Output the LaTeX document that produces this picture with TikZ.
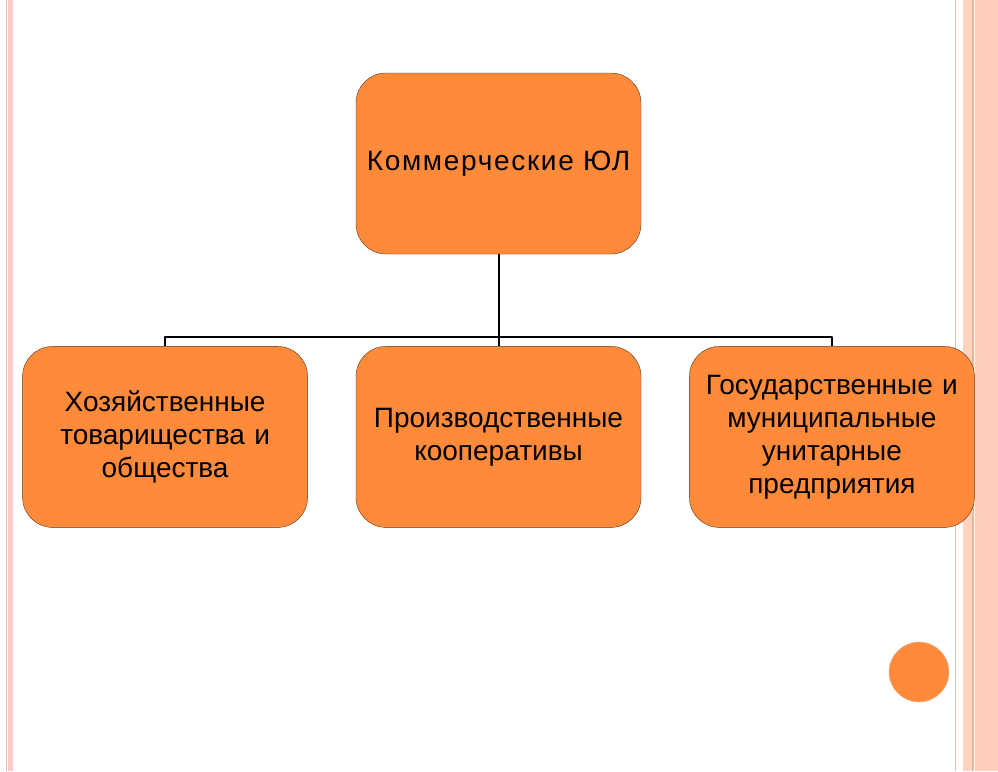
\documentclass[tikz,border=0pt]{standalone}
\usepackage{fontspec}
\setmainfont{Liberation Sans}
\usetikzlibrary{positioning,calc}
\definecolor{boxfill}{HTML}{FF8A3A}
\definecolor{boxline}{HTML}{5A3418}
\definecolor{stripetan}{HTML}{D9C2AE}
\definecolor{stripepink}{HTML}{FFC9C6}
\definecolor{stripepeach}{HTML}{FFD3BE}
\definecolor{stripedark}{HTML}{EDB497}
\definecolor{stripesalmon}{HTML}{FFCDBE}

\begin{document}
\begin{tikzpicture}[x=1pt,y=-1pt,line join=round,
	orgbox/.style={draw=boxline,fill=boxfill,rectangle,rounded corners=30pt,minimum width=285pt,minimum height=181pt,text width=275pt,align=center,font=\fontsize{28}{33}\selectfont,inner sep=0pt},
	branch/.style={draw=black,line width=2pt}]
	\useasboundingbox (0,0) rectangle (998,771);
	% page frame
	\fill[stripetan]		(5.5,0) rectangle (7,771);
	\fill[stripepink]		(8,0) rectangle (12.5,771);
	\fill[stripetan]		(954.5,0) rectangle (956,771);
	\fill[stripepeach]		(963,0) rectangle (972,771);
	\fill[stripedark]		(972,0) rectangle (973.5,771);
	\fill[stripesalmon]		(975,0) rectangle (998,771);

	\node[orgbox]			(com)		at (498.5,163.5)				{\addfontfeature{LetterSpace=6}Коммерческие ЮЛ};
	\node[orgbox]			(coop)		[below=92pt of com]				{Производственные\\кооперативы};
	\node[orgbox]			(econ)		[left=48pt of coop]				{Хозяйственные\\товарищества и\\общества};
	\node[orgbox]			(unit)		[right=48pt of coop]			{Государственные и\\муниципальные\\унитарные\\предприятия};

	\coordinate				(bus)		at ($(com.south)!0.9!(coop.north)$);
	\draw[branch]	(com.south) -- (coop.north);
	\draw[branch]	(econ.north) -- (econ.north |- bus) -- (unit.north |- bus) -- (unit.north);

	\node[circle,draw=stripedark,fill=boxfill,minimum size=60pt,inner sep=0pt]	(dot)	at (919,672)	{};
\end{tikzpicture}
\end{document}
